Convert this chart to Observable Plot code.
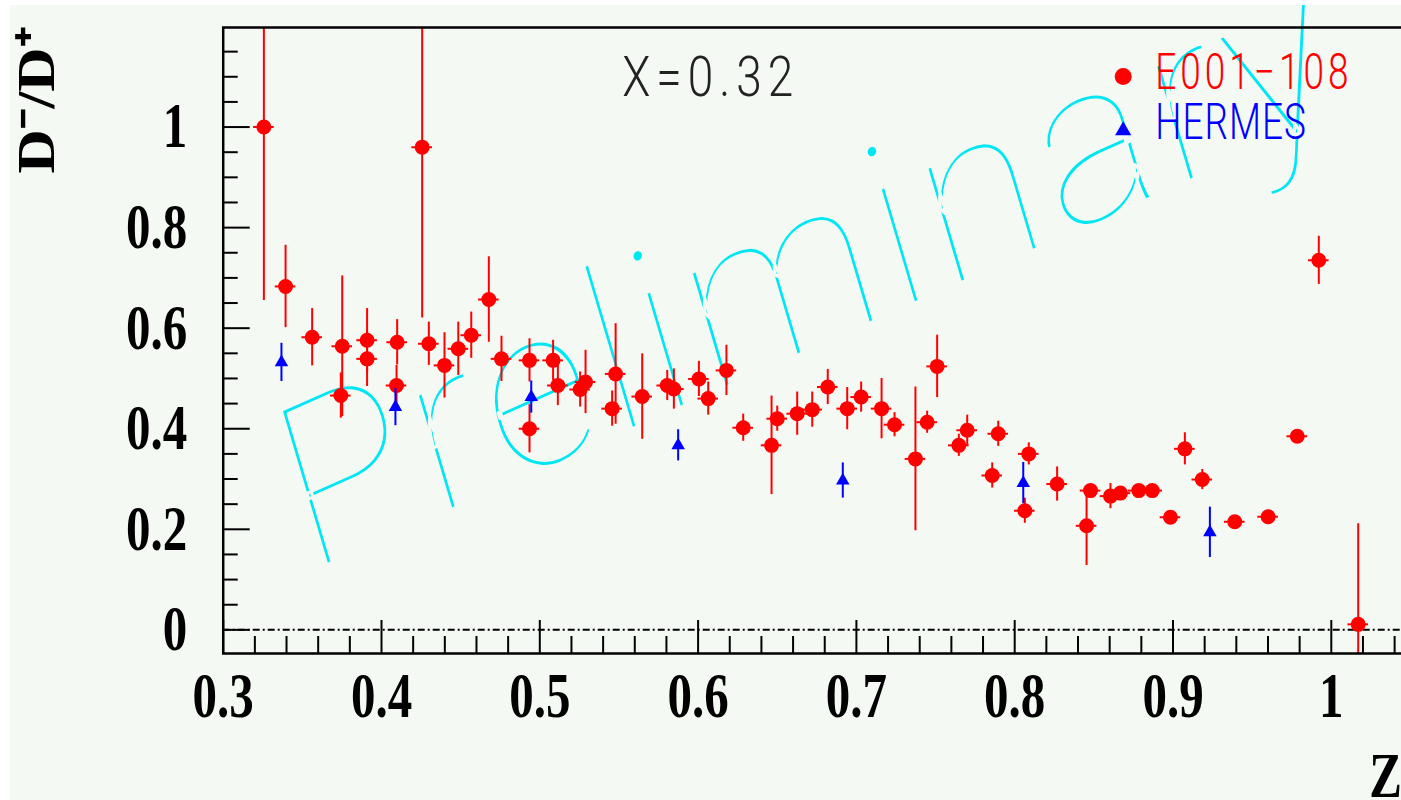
<!DOCTYPE html>
<html><head><meta charset="utf-8">
<script src="https://cdn.jsdelivr.net/npm/d3@7"></script>
<script src="https://cdn.jsdelivr.net/npm/@observablehq/plot@0.6"></script>
<style>
html,body{margin:0;padding:0;background:#ffffff;overflow:hidden;width:1401px;height:800px;}
#chart{position:absolute;left:10px;top:5px;width:1391px;height:795px;overflow:hidden;background:#f4f9f4;}
#chart svg{max-width:none !important;display:block;}
</style></head><body><div id="chart"></div>
<script>
// ---- data: E001-108 (red) ----
const e001Z = [0.3257,0.3394,0.3562,0.3752,0.3743,0.3909,0.3909,0.4099,0.4095,0.4257,
  0.4299,0.4398,0.4485,0.4567,0.4678,0.4758,0.4935,0.4935,0.5084,0.5114,
  0.5255,0.5289,0.5479,0.5457,0.5647,0.5805,0.5847,0.6005,0.6064,0.6179,
  0.6285,0.6464,0.6500,0.6626,0.6721,0.6819,0.6942,0.7030,0.7159,0.7241,
  0.7373,0.7447,0.7510,0.7647,0.7700,0.7858,0.7896,0.8064,0.8089,0.8268,
  0.8454,0.8479,0.8605,0.8668,0.8784,0.8869,0.8984,0.9075,0.9185,0.9390,
  0.9601,0.9785,0.9921,1.0170];
const e001Y = [1.000,0.683,0.582,0.564,0.466,0.576,0.539,0.572,0.486,0.960,
  0.569,0.526,0.559,0.586,0.657,0.539,0.536,0.400,0.536,0.486,
  0.478,0.493,0.509,0.440,0.464,0.486,0.479,0.499,0.460,0.516,
  0.402,0.367,0.420,0.430,0.438,0.483,0.440,0.463,0.440,0.408,
  0.340,0.413,0.524,0.367,0.397,0.307,0.390,0.237,0.350,0.290,
  0.207,0.277,0.266,0.272,0.277,0.277,0.224,0.360,0.299,0.215,
  0.225,0.385,0.735,0.011];
const e001Err = [0.345,0.082,0.057,0.140,0.045,0.063,0.055,0.045,0.040,0.340,
  0.043,0.065,0.053,0.046,0.085,0.045,0.043,0.048,0.040,0.040,
  0.035,0.063,0.100,0.035,0.085,0.030,0.040,0.035,0.033,0.050,
  0.027,0.098,0.025,0.043,0.035,0.035,0.042,0.030,0.060,0.024,
  0.143,0.022,0.062,0.022,0.030,0.025,0.025,0.025,0.022,0.034,
  0.079,0.012,0.025,0.012,0.012,0.012,0.010,0.032,0.020,0.010,
  0.010,0.010,0.048,0.200];
const zHalfWidth = 0.0065;

// ---- data: HERMES (blue) ----
const hermesZ = [0.3368,0.4088,0.4946,0.5874,0.6914,0.8054,0.9233];
const hermesY = [0.532,0.443,0.463,0.367,0.297,0.292,0.194];
const hermesErr = [0.038,0.037,0.032,0.031,0.035,0.041,0.050];

// ---- ticks & labels ----
const xMajorTicks = [0.3,0.4,0.5,0.6,0.7,0.8,0.9,1.0];
const xTickLabels = ["0.3","0.4","0.5","0.6","0.7","0.8","0.9","1"];
const yMajorTicks = [0,0.2,0.4,0.6,0.8,1.0];
const yTickLabels = ["0","0.2","0.4","0.6","0.8","1"];
const xMinorTicks = d3.range(16, 54).filter(i => i % 5 !== 0).map(i => i / 50);
const yMinorTicks = d3.range(1, 24).filter(i => i % 4 !== 0).map(i => i / 20);
const legendLabels = ["E001\u2212108", "HERMES"];
const titleText = "X=0.32";
const yLabel = "D\u207B/D\u207A";
const xLabel = "Z";
const watermark = "Preliminary";

const e001 = e001Z.map((z, i) => ({z, y: e001Y[i], err: e001Err[i]}));
const hermes = hermesZ.map((z, i) => ({z, y: hermesY[i], err: hermesErr[i]}));

const W = 1430, H = 795, mL = 212.7, mT = 22, mB = 147, mR = 0;
const plotW = W - mL - mR, plotH = H - mT - mB;
const RED = "#ff0000", BLUE = "#0000ff", CYAN = "#00e6f2", BG = "#f4f9f4";
const serif = "'Liberation Serif','Times New Roman',serif";
const sans = "Roboto,'Liberation Sans',sans-serif";

const svg = Plot.plot({
  width: W, height: H,
  marginLeft: mL, marginTop: mT, marginBottom: mB, marginRight: mR,
  style: {background: BG, overflow: "visible", maxWidth: "none"},
  x: {domain: [0.3, 0.3 + plotW / 1583], axis: null},
  y: {domain: [-0.047, 1.198], axis: null},
  marks: [
    Plot.text([watermark], {frameAnchor: "bottom-left", dx: 84, dy: -80, textAnchor: "start", lineAnchor: "bottom",
      fontSize: 220, fontWeight: 100, fontFamily: sans, fill: CYAN,
      stroke: BG, strokeWidth: 3, paintOrder: "normal"}),
    Plot.ruleY([0], {stroke: "black", strokeWidth: 2, strokeDasharray: "7,3,2,3"}),
    Plot.tickX(xMinorTicks, {x: d => d, insetTop: plotH - 17, stroke: "black", strokeWidth: 2}),
    Plot.tickX(xMajorTicks, {x: d => d, insetTop: plotH - 33, stroke: "black", strokeWidth: 2}),
    Plot.tickY(yMinorTicks, {y: d => d, insetRight: plotW - 15, stroke: "black", strokeWidth: 2}),
    Plot.tickY(yMajorTicks, {y: d => d, insetRight: plotW - 27, stroke: "black", strokeWidth: 2}),
    Plot.axisX({ticks: xMajorTicks, tickSize: 0, tickPadding: 18, label: null,
      tickFormat: d => xTickLabels[xMajorTicks.indexOf(d)],
      fontSize: 49, fontWeight: "bold", fontFamily: serif, fill: "black"}),
    Plot.axisY({ticks: yMajorTicks, tickSize: 0, tickPadding: 36, label: null,
      tickFormat: d => yTickLabels[yMajorTicks.indexOf(d)],
      fontSize: 49, fontWeight: "bold", fontFamily: serif, fill: "black"}),
    // E001-108 error bars + markers
    Plot.ruleX(e001, {x: "z", y1: d => d.y - d.err, y2: d => d.y + d.err, stroke: RED, strokeWidth: 2, clip: true}),
    Plot.ruleY(e001, {y: "y", x1: d => d.z - zHalfWidth, x2: d => d.z + zHalfWidth, stroke: RED, strokeWidth: 2, clip: true}),
    Plot.dot(e001, {x: "z", y: "y", r: 7.5, fill: RED, symbol: "circle", clip: true}),
    // HERMES
    Plot.ruleX(hermes, {x: "z", y1: d => d.y - d.err, y2: d => d.y + d.err, stroke: BLUE, strokeWidth: 2, clip: true}),
    Plot.dot(hermes, {x: "z", y: "y", r: 5, fill: BLUE, symbol: "triangle", clip: true}),
    // title
    Plot.text([titleText], {frameAnchor: "top-left", dx: 399, dy: 68, textAnchor: "start", lineAnchor: "bottom",
      fontSize: 46, fontWeight: 300, fontFamily: sans, fill: "#222"}),
    // legend
    Plot.dot([legendLabels[0]], {frameAnchor: "top-left", dx: 900, dy: 49, r: 8.5, fill: RED, symbol: "circle"}),
    Plot.dot([legendLabels[1]], {frameAnchor: "top-left", dx: 900, dy: 103, r: 6, fill: BLUE, symbol: "triangle"}),
    Plot.text([legendLabels[0]], {frameAnchor: "top-left", dx: 932, dy: 61, textAnchor: "start", lineAnchor: "bottom",
      fontSize: 37, fontWeight: 300, fontFamily: sans, fill: RED}),
    Plot.text([legendLabels[1]], {frameAnchor: "top-left", dx: 932, dy: 111, textAnchor: "start", lineAnchor: "bottom",
      fontSize: 37, fontWeight: 300, fontFamily: sans, fill: BLUE}),
    // axis labels
    Plot.text([yLabel], {frameAnchor: "top-left", dx: -169.7, dy: 146, rotate: -90, textAnchor: "start", lineAnchor: "bottom",
      fontSize: 52, fontWeight: "bold", fontFamily: serif, fill: "black"}),
    Plot.text([xLabel], {frameAnchor: "bottom-left", dx: 1146, dy: 143, textAnchor: "start", lineAnchor: "bottom",
      fontSize: 49, fontWeight: "bold", fontFamily: serif, fill: "black"}),
    Plot.frame({stroke: "black", strokeWidth: 2.5})
  ]
});

// vertical stretch of glyphs as in the original raster
const root = d3.select(svg);
function appendTransform(sel, extra) {
  sel.each(function () {
    const t = this.getAttribute("transform") || "";
    this.setAttribute("transform", t + " " + extra);
  });
}
appendTransform(root.selectAll('g[aria-label="x-axis tick label"] text'), "scale(1,1.3)");
appendTransform(root.selectAll('g[aria-label="y-axis tick label"] text'), "scale(1,1.3)");
const extraByText = {
  [watermark]: "matrix(0.9135,-0.4067,0.2925,0.988,0,0)",
  [titleText]: "scale(1,1.22)",
  [legendLabels[0]]: "scale(1,1.33)",
  [legendLabels[1]]: "scale(1,1.33)",
  [yLabel]: "scale(1.18,1)",
  [xLabel]: "scale(1,1.3)"
};
const spacingByText = {
  [watermark]: "7px",
  [titleText]: "6px",
  [legendLabels[0]]: "4px",
  [legendLabels[1]]: "1px"
};
root.selectAll("text").each(function () {
  const key = this.textContent;
  const pl = this.parentNode.getAttribute("aria-label") || "";
  if (pl.includes("axis")) return;
  if (extraByText[key]) appendTransform(d3.select(this), extraByText[key]);
  if (spacingByText[key]) this.setAttribute("letter-spacing", spacingByText[key]);
});

document.getElementById("chart").appendChild(svg);
</script>
</body></html>
